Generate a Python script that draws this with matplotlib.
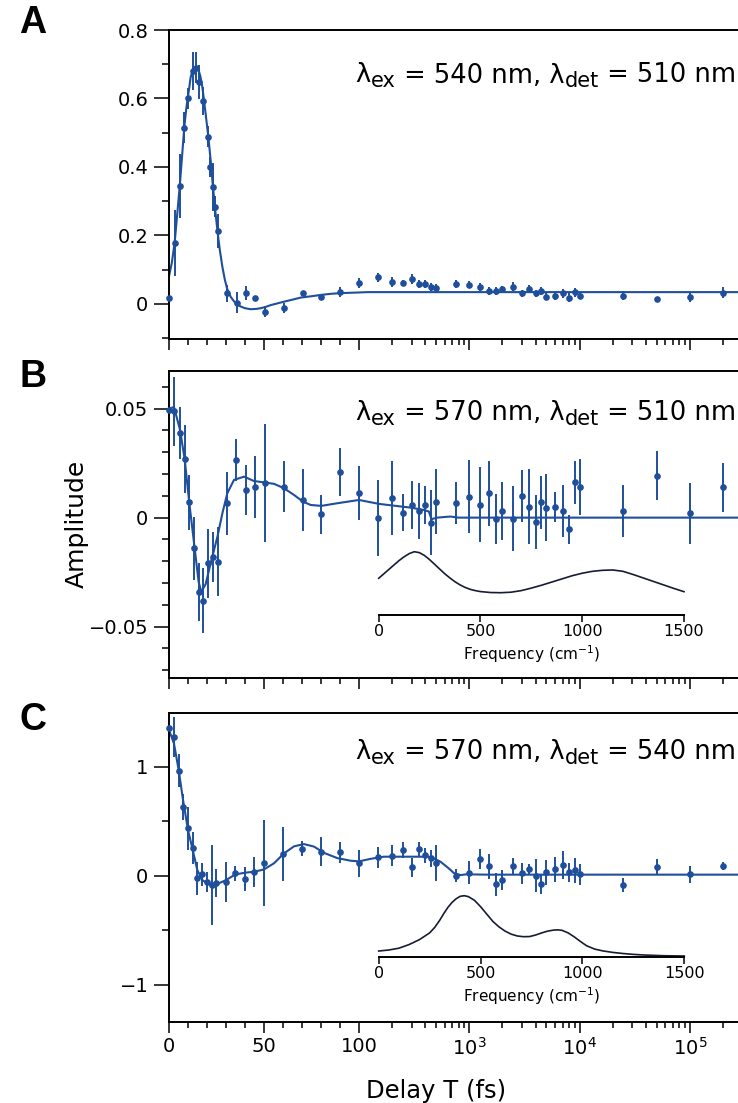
import numpy as np
import matplotlib
matplotlib.use("Agg")
import matplotlib.pyplot as plt
from matplotlib.text import Annotation

plt.rcParams['font.family'] = ['DejaVu Sans']

# ---------------- data ----------------
delay_a = [0, 3.0, 5.6, 8.1, 10.2, 12.8, 14.2, 15.8, 18.1, 20.7,
           21.8, 23.0, 24.3, 25.6, 30.5, 35.6, 40.5, 45.5, 50.4, 60.4,
           70.4, 80.2, 90.2, 100, 150, 200, 250, 300, 350, 400,
           450, 500, 750, 1000, 1250, 1500, 1750, 2000, 2500, 3000,
           3500, 4000, 4500, 5000, 6000, 7000, 8000, 9000, 10000, 25000,
           50000, 100000, 200000]
amp_a = [0.018, 0.177, 0.344, 0.515, 0.60, 0.68, 0.69, 0.649, 0.593, 0.488,
         0.40, 0.342, 0.284, 0.213, 0.030, 0.003, 0.032, 0.018, -0.023, -0.013,
         0.032, 0.019, 0.035, 0.061, 0.077, 0.063, 0.062, 0.073, 0.058, 0.058,
         0.050, 0.047, 0.058, 0.056, 0.050, 0.038, 0.038, 0.042, 0.050, 0.030,
         0.044, 0.030, 0.038, 0.020, 0.022, 0.030, 0.018, 0.033, 0.024, 0.024,
         0.013, 0.020, 0.032]
err_a = [0.0, 0.097, 0.094, 0.045, 0.03, 0.055, 0.045, 0.05, 0.04, 0.03,
         0.03, 0.07, 0.03, 0.05, 0.025, 0.03, 0.02, 0.0, 0.015, 0.015,
         0.0, 0.0, 0.015, 0.015, 0.012, 0.015, 0.008, 0.015, 0.012, 0.012,
         0.012, 0.01, 0.012, 0.01, 0.012, 0.012, 0.012, 0.01, 0.014, 0.01,
         0.012, 0.01, 0.012, 0.01, 0.01, 0.012, 0.012, 0.012, 0.01, 0.012,
         0.0, 0.014, 0.016]
fit_a_t = [0, 1.5, 3, 4.3, 5.6, 7, 8.1, 9.2, 10.5, 11.4,
           12.5, 13.5, 14.5, 15.5, 16.5, 17.5, 18.4, 19.5, 20.7, 22,
           23, 24.3, 25.6, 26.8, 28.1, 29.4, 30.7, 32.5, 34.2, 36,
           37.7, 40, 43, 46, 48.3, 51, 53.5, 57, 60.5, 65,
           69.3, 75, 80.2, 85, 90.2, 100, 120, 150, 200, 300,
           500, 1000, 1e4, 1e5, 2.8e5]
fit_a_y = [0.08, 0.12, 0.18, 0.26, 0.34, 0.44, 0.52, 0.575, 0.625, 0.662,
           0.683, 0.69, 0.69, 0.684, 0.665, 0.635, 0.596, 0.545, 0.488, 0.415,
           0.35, 0.275, 0.208, 0.155, 0.108, 0.07, 0.042, 0.02, 0.007, -0.002,
           -0.008, -0.013, -0.016, -0.015, -0.013, -0.009, -0.004, 0.001, 0.006, 0.012,
           0.018, 0.022, 0.026, 0.029, 0.031, 0.033, 0.034, 0.034, 0.034, 0.034,
           0.034, 0.034, 0.034, 0.034, 0.034]

delay_b = [0, 2.6, 5.8, 8.3, 10.7, 13.2, 15.6, 18.1, 20.5, 23.0,
           25.6, 30.5, 35.5, 40.5, 45.5, 50.4, 60.4, 70.4, 80.2, 90.2,
           100, 150, 200, 250, 300, 350, 400, 450, 500, 750,
           1000, 1250, 1500, 1750, 2000, 2500, 3000, 3500, 4000, 4500,
           5000, 6000, 7000, 8000, 9000, 10000, 25000, 50000, 100000, 200000]
amp_b = [0.0495, 0.0487, 0.0387, 0.0268, 0.0070, -0.0141, -0.0340, -0.0381, -0.0210, -0.0179,
         -0.0202, 0.0066, 0.0265, 0.0127, 0.0142, 0.0158, 0.0142, 0.0081, 0.0015, 0.0211,
         0.0112, 0.0, 0.0092, 0.0023, 0.0058, 0.0031, 0.0057, -0.0023, 0.0074, 0.0066,
         0.0096, 0.0060, 0.0112, -0.0006, 0.0031, -0.0006, 0.0100, 0.0051, -0.0020, 0.0070,
         0.0046, 0.0049, 0.0031, -0.0054, 0.0162, 0.0142, 0.0031, 0.0193, 0.0020, 0.0139]
err_b = [0.0, 0.016, 0.012, 0.0157, 0.0126, 0.0145, 0.0134, 0.0149, 0.016, 0.0115,
         0.0157, 0.0145, 0.0097, 0.0113, 0.0142, 0.027, 0.0116, 0.0142, 0.009, 0.011,
         0.0124, 0.0174, 0.017, 0.0084, 0.0109, 0.0129, 0.0087, 0.0149, 0.0149, 0.0097,
         0.0168, 0.017, 0.015, 0.0116, 0.0133, 0.0149, 0.012, 0.017, 0.0124, 0.0122,
         0.0155, 0.0069, 0.0119, 0.0065, 0.0099, 0.0129, 0.012, 0.0111, 0.0139, 0.0113]
fit_b_t = [0, 2.6, 5.8, 8.3, 10.7, 13.2, 15.6, 17.0, 19.3, 21.9,
           25.5, 28.1, 30.7, 34.2, 39.5, 44.7, 50.4, 55.3, 60.5, 65.8,
           70.4, 74.6, 80.2, 88.6, 100, 152, 207, 293, 387, 430,
           455, 470, 512, 600, 675, 800, 1000, 1e4, 1e5, 2.8e5]
fit_b_y = [0.050, 0.0507, 0.0403, 0.0265, 0.0066, -0.0118, -0.0295, -0.034, -0.0305, -0.021,
           -0.0087, 0.002, 0.0112, 0.0173, 0.0188, 0.0168, 0.0161, 0.0155, 0.0135, 0.0104,
           0.0074, 0.0058, 0.0054, 0.0066, 0.0081, 0.0063, 0.0055, 0.0046, 0.0035, 0.0028,
           -0.0008, -0.0005, 0.0, 0.0003, 0.0005, 0.0, 0.0, 0.0, 0.0, 0.0]

delay_c = [0, 2.6, 5.1, 7.4, 10.0, 12.5, 14.9, 17.4, 19.8, 22.5,
           24.9, 30.0, 34.9, 40.0, 44.9, 50.0, 60.0, 69.8, 79.8, 89.8,
           100, 150, 200, 250, 300, 350, 400, 450, 500, 750,
           1000, 1250, 1500, 1750, 2000, 2500, 3000, 3500, 4000, 4500,
           5000, 6000, 7000, 8000, 9000, 10000, 25000, 50000, 100000, 200000]
amp_c = [1.36, 1.277, 0.965, 0.634, 0.435, 0.257, -0.025, 0.012, -0.055, -0.086,
         -0.064, -0.055, 0.021, -0.031, 0.037, 0.113, 0.199, 0.248, 0.220, 0.214,
         0.113, 0.168, 0.184, 0.236, 0.077, 0.245, 0.190, 0.159, 0.119, 0.0,
         0.028, 0.150, 0.089, -0.080, -0.040, 0.089, 0.021, 0.061, 0.0, -0.080,
         0.031, 0.061, 0.098, 0.031, 0.052, 0.012, -0.086, 0.083, 0.012, 0.092]
err_c = [0.0, 0.184, 0.153, 0.12, 0.2, 0.145, 0.153, 0.107, 0.092, 0.37,
         0.127, 0.182, 0.069, 0.107, 0.138, 0.395, 0.247, 0.069, 0.135, 0.1,
         0.12, 0.1, 0.095, 0.077, 0.084, 0.069, 0.069, 0.08, 0.168, 0.06,
         0.107, 0.092, 0.115, 0.107, 0.092, 0.074, 0.1, 0.05, 0.153, 0.092,
         0.115, 0.115, 0.13, 0.084, 0.115, 0.1, 0.061, 0.07, 0.077, 0.038]
fit_c_t = [0, 2.6, 5.1, 7.4, 10, 12.5, 14.9, 17.6, 20.1, 22.5,
           25.5, 30, 34.9, 40, 44.9, 50, 55.3, 60.5, 65.8, 71,
           76.3, 81.6, 88.6, 95.6, 100, 127, 168, 255, 415, 446,
           548, 653, 724, 832, 954, 1080, 1500, 1e4, 1e5, 2.8e5]
fit_c_y = [1.34, 1.216, 0.971, 0.695, 0.42, 0.236, 0.052, -0.04, -0.07, -0.086,
           -0.075, -0.04, 0.012, 0.028, 0.037, 0.058, 0.115, 0.205, 0.27, 0.291,
           0.268, 0.21, 0.162, 0.138, 0.132, 0.155, 0.175, 0.175, 0.175, 0.172,
           0.129, 0.067, 0.025, 0.006, 0.014, 0.012, 0.01, 0.01, 0.01, 0.01]

freq_b = [0, 25, 50, 75, 100, 125, 150, 175, 200, 225, 250, 275, 300, 325, 350,
          375, 400, 425, 450, 475, 500, 550, 600, 650, 700, 750, 800, 850, 900,
          950, 1000, 1050, 1100, 1150, 1200, 1250, 1300, 1350, 1400, 1450, 1500]
spec_b = [0.58, 0.65, 0.72, 0.79, 0.86, 0.92, 0.97, 1.0, 0.985, 0.94, 0.875, 0.80, 0.725,
          0.65, 0.585, 0.525, 0.475, 0.435, 0.405, 0.385, 0.37, 0.355, 0.352, 0.36, 0.385,
          0.425, 0.47, 0.52, 0.57, 0.62, 0.66, 0.69, 0.706, 0.711, 0.69, 0.64, 0.585,
          0.53, 0.475, 0.42, 0.368]
freq_c = [0, 50, 100, 150, 200, 250, 275, 300, 320, 340, 360, 380, 400, 420, 440,
          470, 500, 530, 560, 590, 620, 650, 680, 710, 740, 770, 800, 830, 860, 880,
          900, 930, 960, 990, 1020, 1060, 1100, 1150, 1200, 1250, 1300, 1400, 1500]
spec_c = [0.093, 0.11, 0.14, 0.20, 0.28, 0.39, 0.48, 0.60, 0.71, 0.81, 0.89, 0.95, 0.99,
          1.0, 0.985, 0.925, 0.82, 0.70, 0.58, 0.49, 0.42, 0.37, 0.34, 0.328, 0.33, 0.355,
          0.39, 0.42, 0.437, 0.44, 0.432, 0.39, 0.325, 0.25, 0.18, 0.125, 0.095, 0.07,
          0.052, 0.038, 0.028, 0.016, 0.011]

x_major = [0, 50, 100, 1e3, 1e4, 1e5]
x_major_labels = ['0', '50', '100', r'$10^{3}$', r'$10^{4}$', r'$10^{5}$']
x_minor = [10, 20, 30, 40, 60, 70, 80, 90] + \
          [m * d for d in (100, 1000, 10000) for m in range(2, 10)] + [2e5]

labels_txt = [('λ', 'ex', ' = 540 nm, λ', 'det', ' = 510 nm'),
              ('λ', 'ex', ' = 570 nm, λ', 'det', ' = 510 nm'),
              ('λ', 'ex', ' = 570 nm, λ', 'det', ' = 540 nm')]

# ---------------- styling ----------------
BLUE = '#1f4f9b'
NAVY = '#161c36'
W, H = 738, 1103
K = 110.3 / 1.9   # linear-units per decade in the log part


def fwd(t):
    t = np.asarray(t, dtype=float)
    return np.where(t <= 100, t, 100 + K * np.log10(np.maximum(t, 100) / 100))


def inv(u):
    u = np.asarray(u, dtype=float)
    return np.where(u <= 100, u, 100 * 10 ** ((np.clip(u, 100, 1000) - 100) / K))


fig = plt.figure(figsize=(W / 100, H / 100), dpi=100)


def axes_px(left, top, right, bottom):
    return fig.add_axes([left / W, 1 - bottom / H, (right - left) / W, (bottom - top) / H])


def style_main(ax, ylim, ymaj, ymaj_lab, ymin, show_x):
    ax.set_xscale('function', functions=(fwd, inv))
    ax.set_xlim(0, 2.73e5)
    ax.set_ylim(*ylim)
    ax.spines['right'].set_visible(False)
    for s in ('left', 'top', 'bottom'):
        ax.spines[s].set_linewidth(1.4)
    ax.set_xticks(x_major)
    ax.set_xticks(x_minor, minor=True)
    ax.set_xticklabels(x_major_labels if show_x else [''] * len(x_major))
    ax.set_yticks(ymaj)
    ax.set_yticklabels(ymaj_lab)
    ax.set_yticks(ymin, minor=True)
    ax.tick_params(axis='x', which='major', direction='out', length=8, width=1.1,
                   labelsize=14, pad=3, labelbottom=show_x)
    ax.tick_params(axis='x', which='minor', direction='out', length=4, width=1.1)
    ax.tick_params(axis='y', which='major', direction='out', length=10.8, width=1.1,
                   labelsize=14, pad=4)
    ax.tick_params(axis='y', which='minor', direction='out', length=5.3, width=1.1)


def draw_panel(ax, t, a, e, ft, fy):
    ax.plot(ft, fy, color=BLUE, lw=1.5, zorder=2)
    ax.errorbar(t, a, yerr=e, fmt='o', ms=4.8, mew=0, color=BLUE, ecolor=BLUE,
                elinewidth=1.4, capsize=0, clip_on=False, zorder=3)


def style_inset(ax, f, s):
    ax.plot(f, s, color=NAVY, lw=1.2, clip_on=False, solid_joinstyle='round')
    ax.set_xlim(0, 1500)
    ax.set_ylim(0, 1)
    ax.patch.set_visible(False)
    for sname in ('left', 'right', 'top'):
        ax.spines[sname].set_visible(False)
    ax.spines['bottom'].set_linewidth(1.4)
    ax.set_yticks([])
    ax.set_xticks([0, 500, 1000, 1500])
    ax.tick_params(axis='x', direction='out', length=4.8, width=1.1, labelsize=11.5, pad=2)
    ax.set_xlabel('Frequency (cm$^{-1}$)', fontsize=11, labelpad=3)


def rich_text(x_px, base_px, parts):
    big, small, dy = 18.5, 15, -3.5
    t = fig.text(x_px / W, 1 - base_px / H, parts[0], fontsize=big, ha='left', va='baseline')
    prev = t
    for i, s in enumerate(parts[1:], start=1):
        sub = (i % 2 == 1)
        ann = Annotation(s, xy=(1, 1 - base_px / H), xycoords=(prev, 'figure fraction'),
                         xytext=(0.5 if sub else 0, dy if sub else 0), textcoords='offset points',
                         ha='left', va='baseline', fontsize=small if sub else big,
                         annotation_clip=False)
        fig.add_artist(ann)
        prev = ann


# Panel A
axA = axes_px(169, 30, 738, 339)
style_main(axA, (-0.103, 0.8), [0, 0.2, 0.4, 0.6, 0.8], ['0', '0.2', '0.4', '0.6', '0.8'],
           [-0.1, 0.1, 0.3, 0.5, 0.7], False)
draw_panel(axA, delay_a, amp_a, err_a, fit_a_t, fit_a_y)

# Panel B
axB = axes_px(169, 370.7, 738, 678.3)
style_main(axB, (-0.0737, 0.0674), [-0.05, 0, 0.05], ['\u22120.05', '0', '0.05'],
           [-0.07, -0.06, -0.04, -0.03, -0.02, -0.01, 0.01, 0.02, 0.03, 0.04, 0.06], False)
draw_panel(axB, delay_b, amp_b, err_b, fit_b_t, fit_b_y)

# Panel C
axC = axes_px(169, 712.7, 738, 1021.7)
style_main(axC, (-1.341, 1.498), [-1, 0, 1], ['\u22121', '0', '1'], [-0.5, 0.5], True)
draw_panel(axC, delay_c, amp_c, err_c, fit_c_t, fit_c_y)

# Insets
insB = axes_px(378.7, 615 - 63.3, 684, 615)
style_inset(insB, freq_b, spec_b)
insC = axes_px(378.7, 956.7 - 61, 684.3, 956.7)
style_inset(insC, freq_c, spec_c)

# Annotations
rich_text(355, 82.5, labels_txt[0])
rich_text(355, 420, labels_txt[1])
rich_text(355, 759, labels_txt[2])

# Panel letters & axis labels
for letter, yc in (('A', 23), ('B', 377), ('C', 720)):
    fig.text(33 / W, 1 - yc / H, letter, fontsize=27, fontweight='bold',
             family=['Liberation Sans', 'DejaVu Sans'], ha='center', va='center')
fig.text(77 / W, 1 - 524 / H, 'Amplitude', rotation=90, fontsize=18, ha='center', va='center')
fig.text(436.5 / W, 1 - 1098 / H, 'Delay T (fs)', fontsize=17.5, ha='center', va='baseline')

fig.savefig('out.png', dpi=100)
